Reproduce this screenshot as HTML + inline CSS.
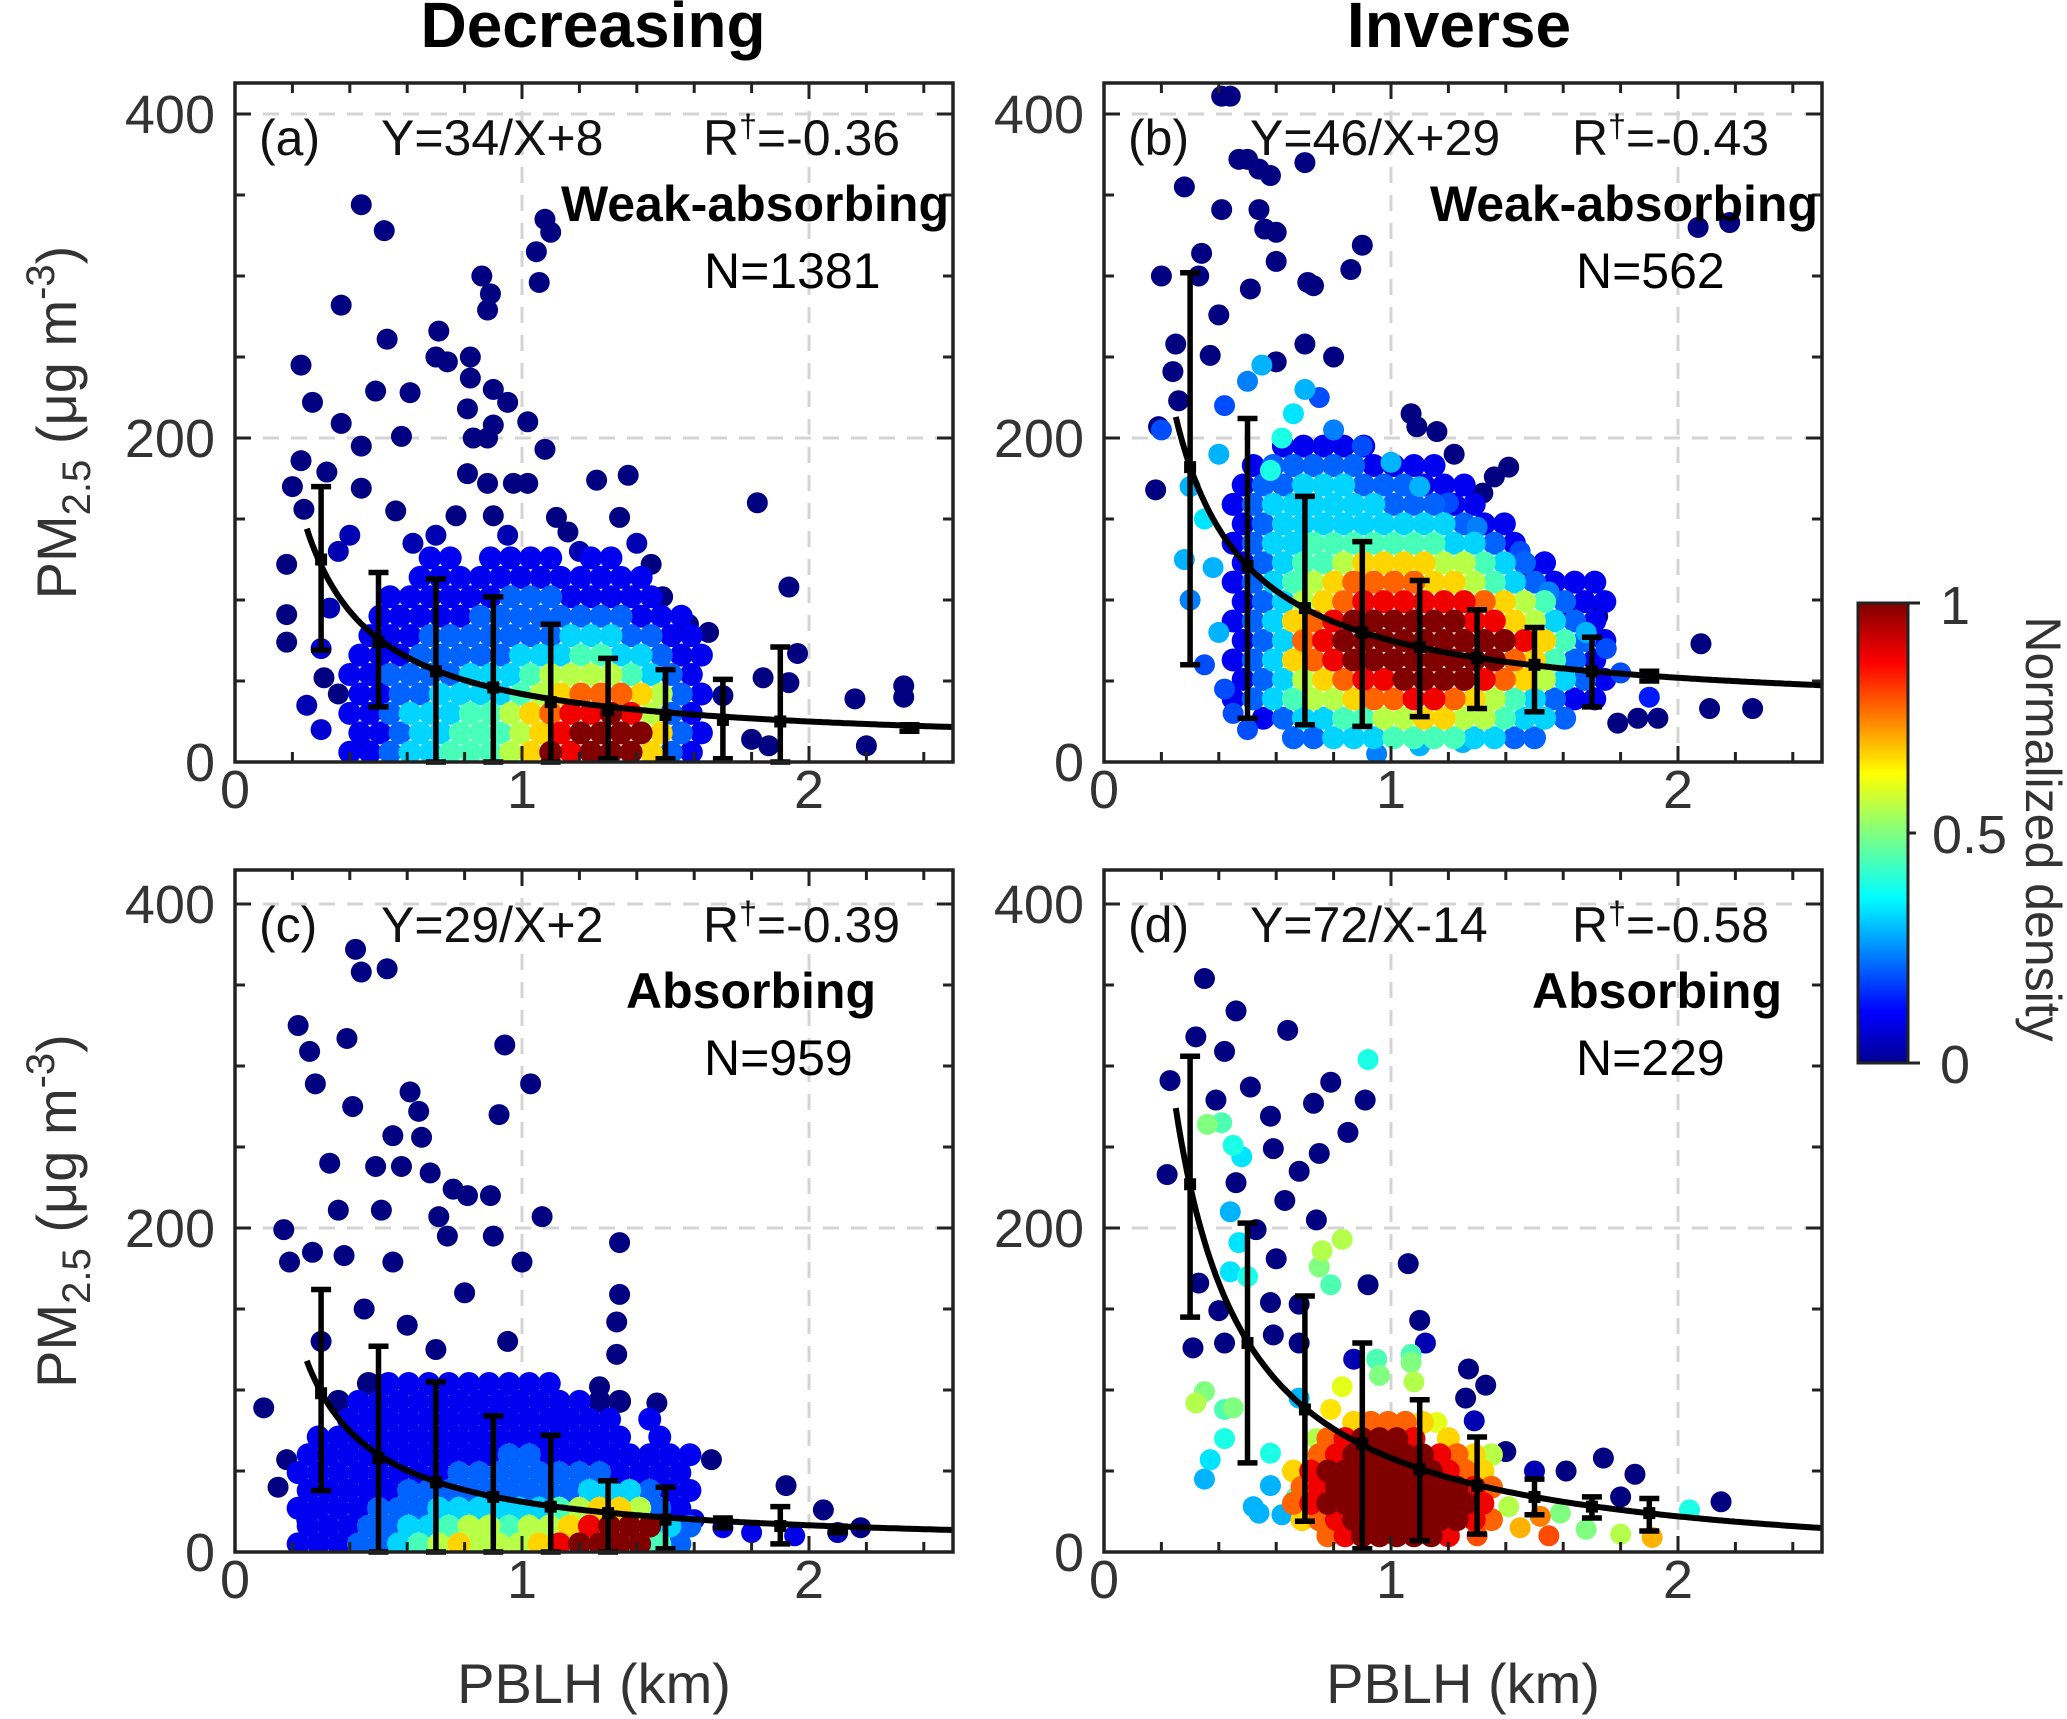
<!DOCTYPE html>
<html><head><meta charset="utf-8"><style>
html,body{margin:0;padding:0;background:#fff;}
svg{display:block;font-family:"Liberation Sans",Arial,sans-serif;}
</style></head><body>
<svg id="fig" width="2067" height="1719" viewBox="0 0 2067 1719" xmlns="http://www.w3.org/2000/svg">
<defs>
<linearGradient id="jetg" x1="0" y1="1" x2="0" y2="0">
<stop offset="0" stop-color="#00008f"/><stop offset="0.11" stop-color="#0000ff"/><stop offset="0.36" stop-color="#00ffff"/>
<stop offset="0.5" stop-color="#80ff80"/><stop offset="0.63" stop-color="#ffff00"/><stop offset="0.87" stop-color="#ff0000"/><stop offset="1" stop-color="#800000"/>
</linearGradient>
</defs>
<text x="593" y="47" font-size="64" font-weight="bold" text-anchor="middle" fill="#000">Decreasing</text>
<text x="1459" y="47" font-size="64" font-weight="bold" text-anchor="middle" fill="#000">Inverse</text>
<g>
<rect x="1858" y="603" width="50" height="460" fill="url(#jetg)" stroke="#222" stroke-width="3"/>
<line x1="1908" y1="603" x2="1920" y2="603" stroke="#222" stroke-width="3"/>
<line x1="1908" y1="833" x2="1916" y2="833" stroke="#222" stroke-width="3"/>
<line x1="1908" y1="1063" x2="1920" y2="1063" stroke="#222" stroke-width="3"/>
<text x="1940" y="624" font-size="54" fill="#333">1</text>
<text x="1932" y="853" font-size="54" fill="#333">0.5</text>
<text x="1940" y="1083" font-size="54" fill="#333">0</text>
<text transform="translate(2026,829) rotate(90)" font-size="50" text-anchor="middle" fill="#333">Normalized density</text>
</g>
<g id="panels"></g>
</svg>
<script>
// ---------- data ----------
const xTicks=[0,1,2];
const yTicks=[0,200,400];
// outlier points [x(km), PM2.5, density]
const ptsA=[[0.44,344,0],[0.52,328,0],[0.23,245,0],[0.27,222,0],[0.37,282,0],[0.53,261,0],[0.49,229,0],[0.61,228,0],[0.58,201,0],[0.37,209,0],[0.44,195,0],[0.23,186,0],[0.20,170,0],[0.32,179,0],[0.24,156,0],[0.44,169,0],[0.56,155,0],[0.71,266,0],[0.70,250,0],[0.74,247,0],[0.82,250,0],[0.86,300,0],[0.89,289,0],[0.88,279,0],[0.82,237,0],[0.90,230,0],[0.95,222,0],[1.02,210,0],[0.81,218,0],[0.90,208,0],[0.83,200,0],[0.88,200,0],[1.08,193,0],[1.08,335,0],[1.10,327,0],[1.05,315,0],[1.06,296,0],[0.81,178,0],[0.88,172,0],[0.97,172,0],[1.02,172,0],[0.77,152,0],[0.90,152,0],[1.26,174,0],[1.37,177,0],[1.34,151,0],[1.12,151,0],[1.16,142,0],[1.82,160,0],[1.93,108,0],[1.96,67,0],[2.16,39,0],[2.20,10,0],[2.33,47,0],[2.33,40,0],[1.84,52,0],[1.93,49,0],[1.65,80,0],[1.58,85,0],[1.49,102,0],[1.45,122,0],[1.70,41,0],[1.80,14,0],[1.86,10,0],[0.18,122,0],[0.18,91,0],[0.18,74,0],[0.31,52,0],[0.36,42,0],[0.44,10,0],[0.30,20,0.08],[0.25,35,0.05],[0.33,95,0.05],[0.30,70,0.08],[0.36,130,0.05],[0.40,140,0.05],[0.95,140,0.05],[1.40,135,0.05],[0.62,135,0.05],[0.70,140,0.05],[1.20,130,0.05]];
const ptsB=[[0.41,411,0],[0.44,411,0],[0.28,355,0],[0.20,300,0],[0.33,300,0],[0.34,314,0],[0.47,372,0],[0.50,372,0],[0.54,366,0],[0.58,362,0],[0.70,370,0],[0.41,341,0],[0.54,341,0],[0.56,329,0],[0.60,327,0],[0.60,309,0],[0.71,296,0],[0.73,294,0],[0.90,319,0],[0.86,304,0],[0.51,292,0],[0.40,276,0],[0.37,251,0],[0.25,258,0],[0.24,241,0],[0.60,247,0],[0.70,258,0],[0.80,250,0],[0.26,223,0],[0.19,207,0],[0.18,168,0],[1.07,215,0],[1.09,207,0],[1.16,204,0],[1.22,190,0],[1.36,176,0],[1.41,182,0],[1.32,166,0],[1.48,121,0],[1.61,92,0],[1.72,90,0],[2.08,73,0],[2.11,33,0],[2.26,33,0],[2.07,330,0],[2.18,333,0],[1.93,27,0],[1.86,27,0],[1.79,24,0],[0.20,205,0.2],[0.30,170,0.3],[0.35,150,0.35],[0.38,120,0.3],[0.30,100,0.25],[0.40,80,0.3],[0.35,60,0.2],[0.42,45,0.2],[0.45,30,0.2],[0.50,20,0.2],[0.28,125,0.3],[0.40,190,0.3],[0.42,220,0.2],[0.50,235,0.25],[0.55,245,0.3],[0.58,180,0.4],[0.62,200,0.4],[0.66,215,0.35],[0.70,230,0.3],[0.75,225,0.2],[0.80,205,0.25],[0.90,195,0.2],[1.00,185,0.3],[1.10,170,0.3],[1.20,160,0.2],[1.30,145,0.25],[1.45,130,0.2],[1.55,105,0.25],[1.68,80,0.3],[1.75,70,0.2],[1.80,55,0.2],[1.90,40,0.15],[1.10,10,0.3],[0.95,5,0.25],[1.25,12,0.3]];
const ptsC=[[0.22,325,0],[0.42,372,0],[0.44,358,0],[0.53,360,0],[0.39,317,0],[0.26,309,0],[0.28,289,0],[0.41,275,0],[0.61,284,0],[0.64,272,0],[0.94,313,0],[1.03,289,0],[0.92,270,0],[0.55,257,0],[0.65,256,0],[0.58,238,0],[0.68,234,0],[0.76,224,0],[0.81,220,0],[0.89,220,0],[0.71,207,0],[0.74,195,0],[0.49,238,0],[0.33,240,0],[0.51,211,0],[0.36,211,0],[0.17,199,0],[0.19,179,0],[0.27,185,0],[0.38,183,0],[0.55,179,0],[0.90,195,0],[1.00,179,0],[1.07,207,0],[1.34,191,0],[1.34,159,0],[1.33,142,0],[1.33,122,0],[0.10,89,0],[0.18,57,0],[1.66,57,0],[1.92,41,0],[2.05,26,0],[2.18,15,0],[1.47,92,0],[1.27,102,0],[1.13,81,0],[0.45,150,0],[0.60,140,0],[0.80,160,0],[0.70,125,0],[0.95,130,0],[0.30,130,0],[0.15,40,0],[0.25,20,0.05],[1.60,20,0.1],[1.70,15,0.1],[1.80,12,0.1],[1.95,10,0.1],[2.10,12,0.05]];
const ptsD=[[0.35,354,0],[0.46,334,0],[0.64,322,0],[0.32,318,0],[0.42,309,0],[0.23,291,0],[0.39,279,0],[0.51,287,0],[0.79,290,0],[0.73,277,0],[0.91,279,0],[0.58,269,0],[0.85,259,0],[0.59,249,0],[0.75,246,0],[0.22,233,0],[0.68,235,0],[0.46,228,0],[0.63,217,0],[0.74,205,0],[0.53,199,0],[0.60,181,0],[1.06,178,0],[0.92,165,0],[0.33,166,0],[0.40,149,0],[0.58,154,0],[0.68,153,0],[1.10,143,0],[0.59,134,0],[0.68,129,0],[0.31,126,0],[0.42,129,0],[1.12,129,0.05],[0.87,119,0.05],[1.27,113,0],[1.33,103,0],[1.26,95,0],[1.29,81,0.05],[1.40,62,0],[1.74,58,0],[1.61,50,0],[1.85,48,0],[2.15,31,0],[1.80,34,0],[1.50,50,0.05],[0.92,304,0.4],[0.36,264,0.5],[0.41,265,0.45],[0.45,251,0.4],[0.48,244,0.35],[0.44,210,0.3],[0.47,191,0.35],[0.44,173,0.35],[0.50,170,0.4],[0.83,193,0.55],[0.76,186,0.55],[0.75,176,0.5],[0.79,165,0.45],[0.35,99,0.5],[0.32,92,0.55],[0.42,88,0.45],[0.45,89,0.5],[0.42,70,0.4],[0.37,57,0.35],[0.35,45,0.3],[0.52,28,0.3],[0.54,24,0.3],[0.62,23,0.3],[0.58,41,0.3],[0.58,61,0.4],[0.67,34,0.45],[0.76,18,0.5],[0.96,109,0.5],[0.95,119,0.45],[1.07,117,0.5],[1.08,105,0.55],[1.07,122,0.45],[1.16,80,0.6],[0.83,102,0.6],[0.79,88,0.65],[1.41,28,0.55],[1.59,24,0.5],[1.68,14,0.5],[1.80,11,0.55],[2.04,26,0.4],[1.91,9,0.7],[1.35,20,0.6],[1.45,15,0.7],[1.55,10,0.8],[1.52,22,0.75],[1.30,10,0.8],[0.70,45,0.5],[0.74,70,0.55],[0.68,95,0.3]];
// density grids: [y value, x start, digits 0-9 ('.' = empty)]
const gridA=[[6,0.40,"112334445698999621"],[18,0.40,"112334445689999621"],[30,0.40,"112333445678898521"],[42,0.40,"112233334567776521"],[54,0.40,"112222333455554321"],[66,0.40,"111222223334433211"],[78,0.40,".11122222223332211"],[90,0.40,".1111122222222111."],[102,0.40,"..11111122211111.."],[114,0.40,"...111111111111..."],[126,0.40,"....11.1111.11...."]];
const gridB=[[15,0.45,"...2233344443322..."],[27,0.45,".1233445566554332.."],[39,0.45,"1234556778876543211"],[51,0.45,"1235678899998765321"],[63,0.45,"1236789999999976421"],[75,0.45,"1237899999999986421"],[87,0.45,"1236789999998865321"],[99,0.45,"1235678888887654211"],[111,0.45,"1234567777665432111"],[123,0.45,"1234456666554321..."],[135,0.45,"123344444443321...."],[147,0.45,"12333333333211....."],[159,0.45,"1233333322211......"],[171,0.45,"122333222111......."],[183,0.45,".1222221111........"],[195,0.45,"..11111............"]];
const gridC=[[5,0.22,"11122345655568999942"],[16,0.22,"11122334554556899932"],[27,0.22,"11112223333334566521"],[38,0.22,"11111222222222333211"],[49,0.22,"11111111222222221111"],[60,0.22,"11111111112211111111"],[71,0.22,".1111111111111111.1."],[82,0.22,"..11111111111111.1.."],[93,0.22,"..011111111111100..."],[104,0.22,"...0111111111......."]];
const gridD=[[10,0.66,"..78999998.."],[20,0.66,"678999999987"],[30,0.66,"789999999998"],[40,0.66,"789999999987"],[50,0.66,"689999999876"],[60,0.66,".78999998765"],[70,0.66,"..789998 6..".replace(" ",".")],[80,0.66,"...67776...."]];
// error bars: x, mean, lower, upper
const ebXA=[0.3,0.5,0.7,0.9,1.1,1.3,1.5,1.7,1.9,2.35];
const ebMeanA=[125,74,56,46,37,32,29,26,25,21];
const ebLoA=[69,34,0,0,0,2,2,2,0,19];
const ebHiA=[170,117,113,102,85,64,57,51,71,23];
const ebXB=[0.3,0.5,0.7,0.9,1.1,1.3,1.5,1.7,1.9];
const ebMeanB=[182,121,95,80,71,64,60,56,53];
const ebLoB=[60,27,23,22,28,33,31,34,50];
const ebHiB=[302,212,164,136,112,94,83,77,56];
const ebXC=[0.3,0.5,0.7,0.9,1.1,1.3,1.5,1.7,1.9,2.1];
const ebMeanC=[98,58,43,34,28,24,20,18,16,14];
const ebLoC=[38,0,0,0,0,0,2,15,5,12];
const ebHiC=[162,127,105,84,72,44,40,21,28,16];
const ebXD=[0.3,0.5,0.7,0.9,1.1,1.3,1.5,1.7,1.9];
const ebMeanD=[227,129,88,67,51,41,34,28,24];
const ebLoD=[145,55,19,2,7,11,23,21,13];
const ebHiD=[306,203,158,129,94,71,45,34,33];
// fit coefficients Y = a/X + b
const fitA=[34,8], fitB=[46,29], fitC=[29,2], fitD=[72,-14];
const labels=[
 {id:"a",eq:"Y=34/X+8",r:"=-0.36",type:"Weak-absorbing",n:"N=1381"},
 {id:"b",eq:"Y=46/X+29",r:"=-0.43",type:"Weak-absorbing",n:"N=562"},
 {id:"c",eq:"Y=29/X+2",r:"=-0.39",type:"Absorbing",n:"N=959"},
 {id:"d",eq:"Y=72/X-14",r:"=-0.58",type:"Absorbing",n:"N=229"}];

// ---------- layout ----------
const layout=[
 {L:235,T:83,B:762,pts:ptsA,grid:gridA,step:0.07,eb:[ebXA,ebMeanA,ebLoA,ebHiA],fit:fitA,lab:labels[0],typeX:949,xlab:false,ylab:true},
 {L:1104,T:83,B:762,pts:ptsB,grid:gridB,step:0.07,eb:[ebXB,ebMeanB,ebLoB,ebHiB],fit:fitB,lab:labels[1],typeX:1818,xlab:false,ylab:false},
 {L:235,T:870,B:1552,pts:ptsC,grid:gridC,step:0.07,eb:[ebXC,ebMeanC,ebLoC,ebHiC],fit:fitC,lab:labels[2],typeX:876,xlab:true,ylab:true},
 {L:1104,T:870,B:1552,pts:ptsD,grid:gridD,step:0.06,eb:[ebXD,ebMeanD,ebLoD,ebHiD],fit:fitD,lab:labels[3],typeX:1782,xlab:true,ylab:false}];
const W=718, PXKM=287, PXU=1.62;
const NS="http://www.w3.org/2000/svg";
function mk(tag,attrs,parent){const e=document.createElementNS(NS,tag);for(const k in attrs)e.setAttribute(k,attrs[k]);parent.appendChild(e);return e;}
function jet(v){const c=t=>Math.round(255*Math.max(0,Math.min(1,t)));
 return "rgb("+c(1.5-Math.abs(4*v-3))+","+c(1.5-Math.abs(4*v-2))+","+c(1.5-Math.abs(4*v-1))+")";}
const root=document.getElementById("panels");
layout.forEach((p,i)=>{
 const sx=x=>p.L+x*PXKM, sy=y=>p.B-y*PXU;
 const g=mk("g",{},root);
 
 
 const cp=mk("clipPath",{id:"clip"+i},g);
 mk("rect",{x:p.L,y:p.T,width:W,height:p.B-p.T},cp);
 [1,2].forEach(v=>{const l=mk("line",{x1:sx(v),x2:sx(v),y1:p.T,y2:p.B,stroke:"#d4d4d4","stroke-width":3,"stroke-dasharray":"16 12"},g);
  
  });
 [200,400].forEach(v=>{const l=mk("line",{x1:p.L,x2:p.L+W,y1:sy(v),y2:sy(v),stroke:"#d4d4d4","stroke-width":3,"stroke-dasharray":"16 12"},g);
  
  });
 const all=[];
 p.pts.forEach(q=>all.push([q[0],q[1],q[2],10.5]));
 p.grid.forEach((row,ri)=>{const off=(ri%2)?p.step/2:0;
  for(let k=0;k<row[2].length;k++){const ch=row[2][k];if(ch===".")continue;all.push([row[1]+off+k*p.step,row[0],(+ch)/9,11.5]);}});
 all.sort((a,b)=>a[2]-b[2]);
 const sg=mk("g",{"clip-path":"url(#clip"+i+")"},g);
 
 
 all.forEach(q=>{const c=mk("circle",{cx:sx(q[0]),cy:sy(q[1]),r:q[3],fill:jet(q[2])},sg);
  
  });
 let d="";for(let x=0.25;x<=2.5001;x+=0.01){const y=p.fit[0]/x+p.fit[1];d+=(d?"L":"M")+sx(x).toFixed(1)+","+sy(y).toFixed(1);}
 const fc=mk("path",{d:d,fill:"none",stroke:"#000","stroke-width":6,"clip-path":"url(#clip"+i+")"},g);
 
 
 const [ex,em,el,eh]=p.eb;
 ex.forEach((x,k)=>{const eg=mk("g",{stroke:"#000","stroke-width":5.5},g);
  
  
  const X=sx(x);
  mk("line",{x1:X,x2:X,y1:sy(el[k]),y2:sy(eh[k])},eg);
  mk("line",{x1:X-10,x2:X+10,y1:sy(el[k]),y2:sy(el[k])},eg);
  mk("line",{x1:X-10,x2:X+10,y1:sy(eh[k]),y2:sy(eh[k])},eg);
  mk("rect",{x:X-6,y:sy(em[k])-6,width:12,height:12,fill:"#000","stroke-width":0},eg);});
 const tg=mk("g",{stroke:"#222","stroke-width":3},g);
 for(let x=0.2;x<2.5;x+=0.2){const X=sx(x),len=(Math.abs(x-1)<0.01||Math.abs(x-2)<0.01)?16:10;
  mk("line",{x1:X,x2:X,y1:p.B,y2:p.B-len},tg);mk("line",{x1:X,x2:X,y1:p.T,y2:p.T+len},tg);}
 for(let y=50;y<=400;y+=50){const Y=sy(y),len=(y%200===0)?16:10;
  mk("line",{x1:p.L,x2:p.L+len,y1:Y,y2:Y},tg);mk("line",{x1:p.L+W,x2:p.L+W-len,y1:Y,y2:Y},tg);}
 const box=mk("rect",{x:p.L,y:p.T,width:W,height:p.B-p.T,fill:"none",stroke:"#222","stroke-width":3.5},g);
 
 
 xTicks.forEach(v=>{const t=mk("text",{x:sx(v),y:p.B+46,"font-size":54,"text-anchor":"middle",fill:"#333"},g);t.textContent=v;
  
  });
 yTicks.forEach(v=>{const t=mk("text",{x:p.L-20,y:sy(v)+19,"font-size":54,"text-anchor":"end",fill:"#333"},g);t.textContent=v;
  
  });
 const ty=p.T+72;
 const a1=mk("text",{x:p.L+24,y:ty,"font-size":50,fill:"#111"},g);a1.textContent="("+p.lab.id+")";
 
 
 const a2=mk("text",{x:p.L+146,y:ty,"font-size":50,fill:"#111"},g);a2.textContent=p.lab.eq;
 
 
 const a3=mk("text",{x:p.L+468,y:ty,"font-size":50,fill:"#111"},g);
 
 
 a3.appendChild(document.createTextNode("R"));
 const sup=mk("tspan",{dy:-18,"font-size":32},a3);sup.textContent="†";
 const rest=mk("tspan",{dy:18},a3);rest.textContent=p.lab.r;
 const a4=mk("text",{x:p.typeX,y:p.T+138,"font-size":50,"font-weight":"bold","text-anchor":"end",fill:"#000"},g);a4.textContent=p.lab.type;
 
 
 const a5=mk("text",{x:p.L+(i%2?472:469),y:p.T+205,"font-size":50,fill:"#000"},g);a5.textContent=p.lab.n;
 
 
 if(p.xlab){const t=mk("text",{x:p.L+W/2,y:1703,"font-size":56,"text-anchor":"middle",fill:"#333"},g);t.textContent="PBLH (km)";
  
  }
 if(p.ylab){const cy=(p.T+p.B)/2;
  const t=mk("text",{transform:"translate(76,"+cy+") rotate(-90)","font-size":56,"text-anchor":"middle",fill:"#333"},g);
  
  
  t.appendChild(document.createTextNode("PM"));
  const s1=mk("tspan",{dy:14,"font-size":40},t);s1.textContent="2.5";
  const s2=mk("tspan",{dy:-14},t);s2.textContent=" (μg m";
  const s3=mk("tspan",{dy:-22,"font-size":40},t);s3.textContent="-3";
  const s4=mk("tspan",{dy:22},t);s4.textContent=")";}
});
</script>
</body></html>
